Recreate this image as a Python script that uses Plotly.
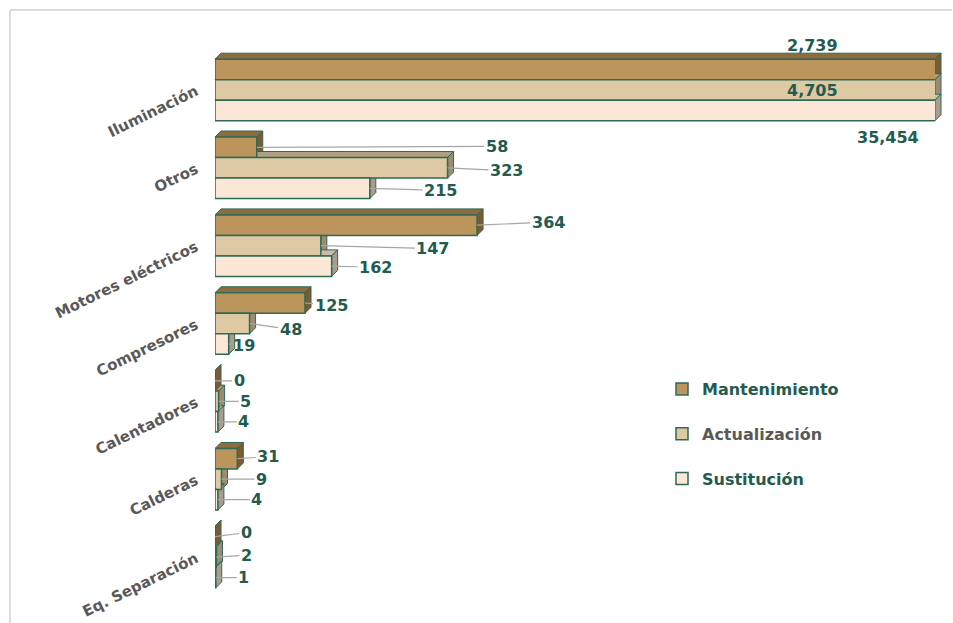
import plotly.graph_objects as go

# ---------------- data ----------------
categories = ["Iluminación", "Otros", "Motores eléctricos", "Compresores",
              "Calentadores", "Calderas", "Eq. Separación"]
mantenimiento = [2739, 58, 364, 125, 0, 31, 0]
actualizacion = [4705, 323, 147, 48, 5, 9, 2]
sustitucion = [35454, 215, 162, 19, 4, 4, 1]
series_names = ["Mantenimiento", "Actualización", "Sustitución"]
x_axis_max = 1000  # axis is cut; the Iluminación bars run past it

series_values = [mantenimiento, actualizacion, sustitucion]

# ---------------- styles / layout ----------------
W, H = 953, 623
M_L, M_R, M_T, M_B = 215, 18, 51, 27
PW, PH = W - M_L - M_R, H - M_T - M_B
fills = ["#BC955C", "#DDC9A3", "#FCE6D5"]
top_fills = ["#8F6C3F", "#B0A080", "#CBBBA9"]
side_fills = ["#7B5B32", "#9D8C70", "#A99D8E"]
outline = "#2E6A56"
label_green = "#235B4E"
gray_text = "#595959"
leader = "#A6A6A6"
FONT = "DejaVu Sans"
BARGAP = 0.21
DEPTH = 6  # px of the fake 3D depth

# label text centre offsets from bar end (px; dy positive = down)
label_offsets = [
    [(-123, -24), (240, -1), (71, -3), (26, 2), (24, 0), (31, -2), (31, -4)],
    [(-123, 1), (59, 3), (112, 3), (41, 6), (27, 0), (40, 0), (30, -2)],
    [(-47, 27), (71, 2), (44, 1), (15, 1), (26, 0), (39, 0), (28, 0)],
]
legend_colors = [label_green, gray_text, label_green]


def px_x(p):
    return (p - M_L) / PW


def px_y(p):
    return (H - M_B - p) / PH


fig = go.Figure()
for i, (name, vals) in enumerate(zip(series_names, series_values)):
    fig.add_trace(go.Bar(
        y=categories, x=vals, orientation="h",
        name=f"<span style='color:{legend_colors[i]}'>{name}</span>",
        legendgroup=str(i),
        marker=dict(color=fills[i], line=dict(color=outline, width=1.5)),
        hovertemplate=name + ": %{x:,}<extra>%{y}</extra>",
    ))

bw = (1 - BARGAP) / 3
bh_px = PH / len(categories) * bw
dxu = DEPTH * x_axis_max / PW
dxp = DEPTH / PW

shapes = []
annotations = []
for i, vals in enumerate(series_values):
    for k, v in enumerate(vals):
        yc = k + (i - 1) * bw
        ytop, ybot = yc - bw / 2, yc + bw / 2
        clipped = v > x_axis_max
        # top face
        if clipped:
            path = f"M 0,0 L {dxp},{DEPTH} L {1 + dxp},{DEPTH} L 1,0 Z"
            xref = "paper"
        else:
            path = f"M 0,0 L {dxu},{DEPTH} L {v + dxu},{DEPTH} L {v},0 Z"
            xref = "x"
        shapes.append(dict(type="path", xref=xref, yref="y", ysizemode="pixel",
                           yanchor=ytop, path=path, fillcolor=top_fills[i],
                           line=dict(color=outline, width=1), layer="below"))
        # side face
        shapes.append(dict(type="path", xref=xref, yref="y",
                           xsizemode="pixel", xanchor=(1 if clipped else v),
                           ysizemode="pixel", yanchor=ybot,
                           path=f"M 0,0 L 0,{bh_px} L {DEPTH},{bh_px + DEPTH} L {DEPTH},{DEPTH} Z",
                           fillcolor=side_fills[i],
                           line=dict(color=outline, width=1), layer="below"))
        dx, dy = label_offsets[i][k]
        font = dict(family=FONT, size=16, color=label_green, weight="bold")
        if clipped:
            annotations.append(dict(xref="paper", yref="y", x=1, y=yc,
                                    xanchor="center", yanchor="middle",
                                    text=f"{v:,}", showarrow=False,
                                    xshift=dx, yshift=-dy, font=font))
        else:
            annotations.append(dict(xref="x", yref="y", x=v, y=yc,
                                    text=f"{v:,}", showarrow=True, arrowhead=0,
                                    arrowwidth=1.2, arrowcolor=leader, standoff=0,
                                    ax=dx, ay=dy, font=font))

# frame lines of the chart area (partially visible in the reference)
shapes.append(dict(type="line", xref="paper", yref="paper",
                   x0=px_x(10), x1=px_x(952), y0=px_y(10), y1=px_y(10),
                   line=dict(color="#D0D0D0", width=1.5)))
shapes.append(dict(type="line", xref="paper", yref="paper",
                   x0=px_x(10), x1=px_x(10), y0=px_y(10), y1=px_y(640),
                   line=dict(color="#D0D0D0", width=1.5)))

n = len(categories)
fig.update_layout(
    width=W, height=H,
    margin=dict(l=M_L, r=M_R, t=M_T, b=M_B, autoexpand=False),
    paper_bgcolor="white", plot_bgcolor="white",
    barmode="group", bargap=BARGAP, bargroupgap=0,
    xaxis=dict(range=[0, x_axis_max], visible=False, showgrid=False, zeroline=False),
    yaxis=dict(type="category", categoryorder="array", categoryarray=categories,
               range=[n - 0.5, -0.5], showgrid=False, zeroline=False, showline=False,
               ticks="", tickangle=-26, ticklabelstandoff=18,
               tickfont=dict(family=FONT, size=15, color=gray_text, weight="bold")),
    legend=dict(x=px_x(662), y=px_y(372), xanchor="left", yanchor="top",
                font=dict(family=FONT, size=16, color=label_green, weight="bold"),
                tracegroupgap=21, itemwidth=30, bgcolor="rgba(0,0,0,0)"),
    shapes=shapes, annotations=annotations,
    showlegend=True,
)

fig.write_html("out.html", config={"displayModeBar": False},
               post_script="document.body.style.margin='0px';")
